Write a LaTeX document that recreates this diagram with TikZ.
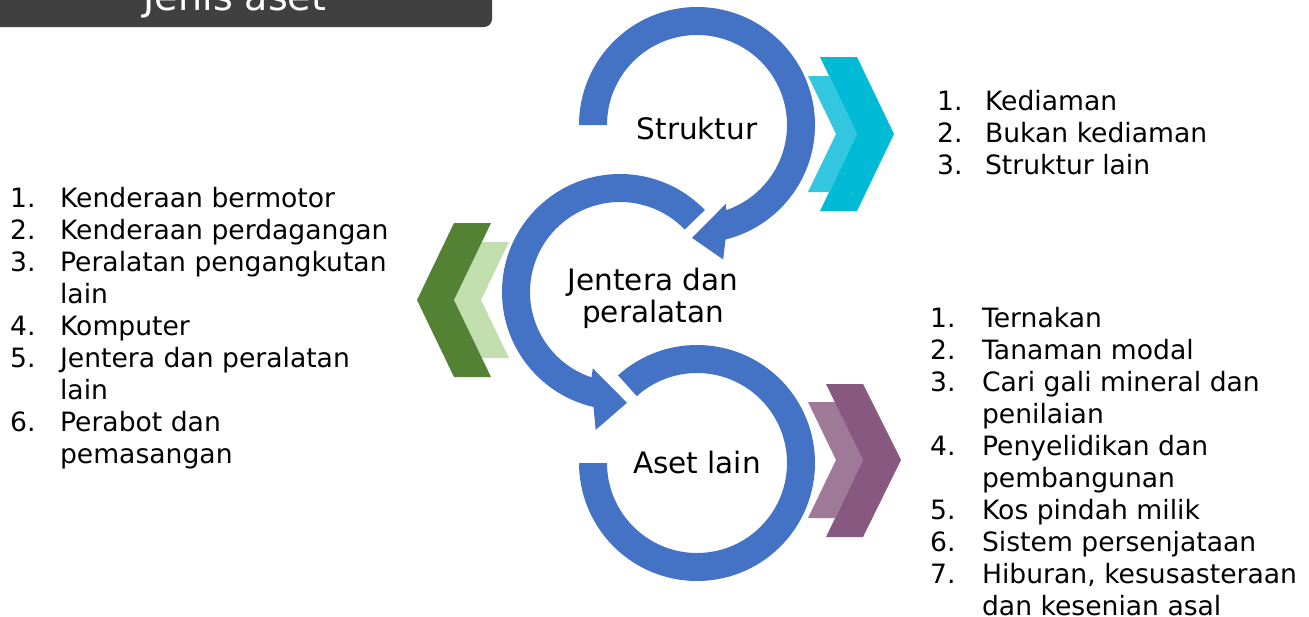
\documentclass[tikz,border=0pt]{standalone}
\usepackage{fontspec}
\setmainfont{DejaVu Sans}
\usetikzlibrary{calc}

\definecolor{ringblue}{RGB}{68,114,196}
\definecolor{titlegray}{RGB}{64,64,64}
\definecolor{cyandark}{RGB}{0,186,214}
\definecolor{cyanlight}{RGB}{51,199,223}
\definecolor{greendark}{RGB}{84,130,53}
\definecolor{greenlight}{RGB}{193,222,174}
\definecolor{purpledark}{RGB}{135,88,128}
\definecolor{purplelight}{RGB}{160,120,152}

\tikzset{
  ring/.style={fill=ringblue},
  ringtext/.style={font=\fontsize{29.5}{32}\selectfont, align=center, inner sep=0pt},
  listtext/.style={font=\fontsize{26.6}{32}\selectfont, anchor=base west, inner sep=0pt}
}

\begin{document}
\begin{tikzpicture}[x=1pt,y=1pt]
\useasboundingbox (0,0) rectangle (1309,-616);
\coordinate (c1) at (697,-125);
\coordinate (c2) at (620,-292);
\coordinate (c3) at (697,-463);
% Title bar
\fill[titlegray] (-10,10) -- (492,10) [rounded corners=8pt] -- (492,-27) -- (-10,-27) [sharp corners] -- cycle;
\node[font=\fontsize{38}{44}\selectfont, text=white, anchor=base] (title) at (235,-10) {Jenis aset};
% Circular arrows
\fill[ring] (c3) ++(132:118) arc[start angle=132, end angle=-180, radius=118]
  -- ($(c3)+(180:90)$) arc[start angle=-180, end angle=132, radius=90] -- cycle;
\fill[ring] (c2) ++(44:118) arc[start angle=44, end angle=257, radius=118]
  -- ($(c2)+(260:140)$) -- ($(c2)+(273.6:111)$) -- ($(c2)+(250.4:81)$)
  -- ($(c2)+(251.5:90)$) arc[start angle=251.5, end angle=44, radius=90] -- cycle;
\fill[ring] (c1) ++(180:118) arc[start angle=180, end angle=-76, radius=118]
  -- ($(c1)+(-79:137)$) -- ($(c1)+(-92.5:113)$) -- ($(c1)+(-70:84)$)
  -- ($(c1)+(-71:90)$) arc[start angle=-71, end angle=180, radius=90] -- cycle;
% Ring labels
\node[ringtext] (struktur) at (697,-129) {Struktur};
\node[ringtext] (jentera) at (653,-298) {Jentera dan\\peralatan};
\node[ringtext] (asetlain) at (697,-462) {Aset lain};
% Chevrons
\fill[cyanlight] (808,-76) -- (829,-76) -- (857,-134) -- (829,-192) -- (808,-192) -- (836,-134) -- cycle;
\fill[cyandark] (820,-57) -- (857,-57) -- (894,-134) -- (857,-211) -- (820,-211) -- (857,-134) -- cycle;
\fill[greenlight] (454,-300) -- (482,-242) -- (509,-242) -- (481,-300) -- (509,-358) -- (482,-358) -- cycle;
\fill[greendark] (417,-300) -- (454,-223) -- (491,-223) -- (454,-300) -- (491,-377) -- (454,-377) -- cycle;
\fill[purplelight] (808,-402) -- (835,-402) -- (863,-460) -- (835,-518) -- (808,-518) -- (836,-460) -- cycle;
\fill[purpledark] (826,-384) -- (863,-384) -- (901,-460) -- (863,-537) -- (826,-537) -- (863,-460) -- cycle;
% Lists
\node[listtext] (strukturlist) at (937,-110) {\begin{tabular}[t]{@{}l@{\hspace{22.5pt}}l@{}}
1. & Kediaman\\
2. & Bukan kediaman\\
3. & Struktur lain
\end{tabular}};
\node[listtext] (jenteralist) at (10,-207) {\begin{tabular}[t]{@{}l@{\hspace{24.5pt}}l@{}}
1. & Kenderaan bermotor\\
2. & Kenderaan perdagangan\\
3. & Peralatan pengangkutan\\
   & lain\\
4. & Komputer\\
5. & Jentera dan peralatan\\
   & lain\\
6. & Perabot dan\\
   & pemasangan
\end{tabular}};
\node[listtext] (asetlist) at (930,-327) {\begin{tabular}[t]{@{}l@{\hspace{26.5pt}}l@{}}
1. & Ternakan\\
2. & Tanaman modal\\
3. & Cari gali mineral dan\\
   & penilaian\\
4. & Penyelidikan dan\\
   & pembangunan\\
5. & Kos pindah milik\\
6. & Sistem persenjataan\\
7. & Hiburan, kesusasteraan\\
   & dan kesenian asal
\end{tabular}};
\end{tikzpicture}
\end{document}
